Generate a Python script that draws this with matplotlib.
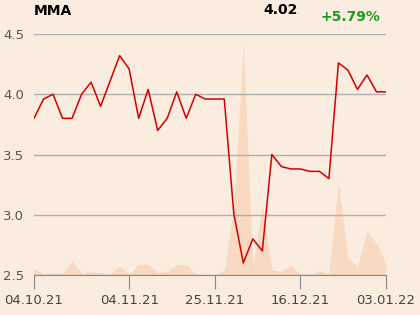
import matplotlib
matplotlib.use("Agg")
import matplotlib.pyplot as plt

# Data (index-based x axis)
price = [3.80, 3.96, 4.00, 3.80, 3.80, 4.00, 4.10, 3.90, 4.11, 4.32,
         4.21, 3.80, 4.04, 3.70, 3.80, 4.02, 3.80, 4.00, 3.96, 3.96,
         3.96, 3.01, 2.60, 2.80, 2.70, 3.50, 3.40, 3.38, 3.38, 3.36,
         3.36, 3.30, 4.26, 4.20, 4.04, 4.16, 4.02, 4.02]
volume = [6.7, 1.0, 2.3, 1.7, 14.0, 1.7, 3.3, 2.3, 0.7, 9.0,
          0.7, 11.0, 10.7, 2.3, 3.8, 10.5, 10.5, 1.0, 0.5, 0.5,
          5.0, 68.0, 231.0, 8.0, 69.0, 5.0, 3.7, 10.0, 0.7, 1.0,
          4.0, 1.7, 92.7, 16.7, 8.3, 43.3, 31.7, 11.7]
tick_pos = [0, 10, 19, 28, 37]
tick_labels = ["04.10.21", "04.11.21", "25.11.21", "16.12.21", "03.01.22"]
y_ticks = [2.5, 3.0, 3.5, 4.0, 4.5]
title = "MMA"
last_price = "4.02"
change = "+5.79%"

bg = "#fbece0"
fig = plt.figure(figsize=(4.2, 3.15), dpi=100, facecolor=bg)
ax = fig.add_axes([34/420, 1-275/315, 352/420, 241/315])
ax2 = ax.twinx()
ax.set_zorder(ax2.get_zorder() + 1)
ax.patch.set_visible(False)

x = list(range(len(price)))
ax2.fill_between(x, 0, volume, color="#f8d9c2", linewidth=0)
ax2.set_ylim(0, 241)
ax2.set_yticks([])
for s in ax2.spines.values():
    s.set_visible(False)

ax.plot(x, price, color="#d40000", linewidth=1.1, zorder=3)
ax.set_xlim(0, len(price) - 1)
ax.set_ylim(2.5, 4.5)
ax.set_yticks(y_ticks)
ax.set_yticklabels([f"{v:.1f}" for v in y_ticks])
ax.set_xticks(tick_pos)
ax.set_xticklabels(tick_labels)
ax.grid(axis="y", color="#b0b0b0", linewidth=1.0)
ax.set_axisbelow(True)
for k in ["top", "right", "left"]:
    ax.spines[k].set_visible(False)
ax.spines["bottom"].set_color("#888888")
ax.tick_params(axis="x", length=10, color="#888888", labelsize=9.5,
               labelcolor="#444444", pad=4)
ax.tick_params(axis="y", length=0, labelsize=9.5, labelcolor="#555555", pad=7)

fig.text(34/420, 1-11/315, title, fontsize=10, fontweight="bold",
         color="black", va="center", ha="left")
fig.text(298/420, 1-10/315, last_price, fontsize=10, fontweight="bold",
         color="black", va="center", ha="right")
fig.text(380/420, 1-17/315, change, fontsize=10, fontweight="bold",
         color="#1a9e1a", va="center", ha="right")

fig.savefig("out.png", dpi=100, facecolor=bg)
